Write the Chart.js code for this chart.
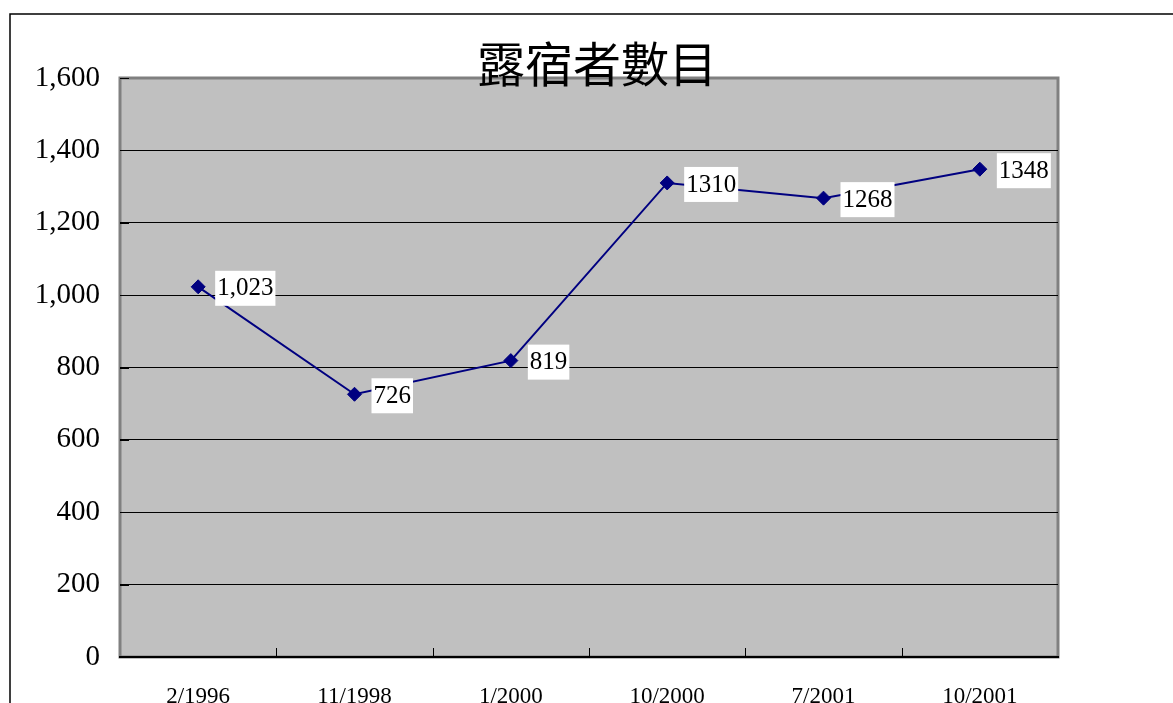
<!DOCTYPE html>
<html lang="zh-Hant">
<head>
<meta charset="UTF-8">
<title>露宿者數目</title>
<style>
    body { margin: 0; background: #fff; }
    #wrap { width: 1173px; height: 703px; position: relative; }
</style>
</head>
<body>
<div id="wrap"><canvas id="chart"></canvas></div>
<script src="https://cdn.jsdelivr.net/npm/chart.js"></script>
<script>
// data
const categories = ['2/1996', '11/1998', '1/2000', '10/2000', '7/2001', '10/2001'];
const counts = [1023, 726, 819, 1310, 1268, 1348];
const pointLabels = ['1,023', '726', '819', '1310', '1268', '1348'];
const yTicks = [0, 200, 400, 600, 800, 1000, 1200, 1400, 1600];
const chartTitle = '露宿者數目';

const serif = '"Liberation Serif", "DejaVu Serif", serif';

// outer frame, grey plot area, inside ticks, title
const framePlugin = {
    id: 'frame',
    beforeDraw(chart) {
        const ctx = chart.ctx, a = chart.chartArea;
        ctx.save();
        ctx.strokeStyle = '#000';
        ctx.lineWidth = 1.5;
        ctx.beginPath();
        ctx.moveTo(10, chart.height);
        ctx.lineTo(10, 14);
        ctx.lineTo(chart.width, 14);
        ctx.stroke();
        ctx.fillStyle = '#c0c0c0';
        ctx.fillRect(a.left, a.top, a.right - a.left, a.bottom - a.top);
        ctx.strokeStyle = '#808080';
        ctx.lineWidth = 3;
        ctx.strokeRect(a.left, a.top, a.right - a.left, a.bottom - a.top);
        ctx.restore();
    },
    afterDraw(chart) {
        const ctx = chart.ctx, a = chart.chartArea;
        const xs = chart.scales.x, ys = chart.scales.y;
        ctx.save();
        ctx.strokeStyle = '#000';
        ctx.lineWidth = 1;
        ctx.beginPath();
        yTicks.forEach(v => {
            const y = Math.round(ys.getPixelForValue(v)) + 0.5;
            ctx.moveTo(a.left, y);
            ctx.lineTo(a.left + 9, y);
        });
        for (let i = 0; i < categories.length - 1; i++) {
            const x = Math.round((xs.getPixelForValue(i) + xs.getPixelForValue(i + 1)) / 2) + 0.5;
            ctx.moveTo(x, a.bottom);
            ctx.lineTo(x, a.bottom - 9);
        }
        ctx.stroke();
        ctx.fillStyle = '#000';
        ctx.font = '48px "Noto Sans CJK TC", sans-serif';
        ctx.textAlign = 'center';
        ctx.textBaseline = 'middle';
        ctx.fillText(chartTitle, 597, 64);
        ctx.restore();
    }
};

// white boxed value labels to the right of each point
const labelPlugin = {
    id: 'valueLabels',
    afterDatasetsDraw(chart) {
        const ctx = chart.ctx;
        const meta = chart.getDatasetMeta(0);
        ctx.save();
        ctx.font = '25px ' + serif;
        ctx.textBaseline = 'middle';
        meta.data.forEach((pt, i) => {
            const txt = pointLabels[i];
            const w = ctx.measureText(txt).width;
            const x = pt.x + 17, y = pt.y + 1;
            ctx.fillStyle = '#fff';
            ctx.fillRect(x, y - 17, w + 4, 35);
            ctx.fillStyle = '#000';
            ctx.fillText(txt, x + 2, y + 1);
        });
        ctx.restore();
    }
};

new Chart(document.getElementById('chart'), {
    type: 'line',
    data: {
        labels: categories,
        datasets: [{
            data: counts,
            borderColor: '#000080',
            borderWidth: 2,
            tension: 0,
            pointStyle: 'rectRot',
            pointRadius: 7,
            pointBackgroundColor: '#000080',
            pointBorderColor: '#000080',
            pointBorderWidth: 1
        }]
    },
    options: {
        responsive: true,
        maintainAspectRatio: false,
        animation: false,
        layout: { padding: { top: 78, right: 115, left: 0, bottom: 0 } },
        plugins: {
            legend: { display: false },
            tooltip: { enabled: false }
        },
        scales: {
            x: {
                offset: true,
                grid: { display: false, drawTicks: false },
                border: { display: true, color: '#000', width: 2 },
                ticks: {
                    padding: 26,
                    color: '#000',
                    font: { family: serif, size: 23 },
                    maxRotation: 0
                },
                afterFit(scale) { scale.height = 46; }
            },
            y: {
                min: 0,
                max: 1600,
                afterBuildTicks(scale) { scale.ticks = yTicks.map(v => ({ value: v })); },
                grid: {
                    drawTicks: false,
                    color: ctx => (ctx.tick && (ctx.tick.value === 0 || ctx.tick.value === 1600)) ? 'rgba(0,0,0,0)' : '#000',
                    lineWidth: 1
                },
                border: { display: false },
                ticks: {
                    padding: 20,
                    color: '#000',
                    font: { family: serif, size: 29 },
                    callback: v => v.toLocaleString('en-US')
                },
                afterFit(scale) { scale.width = 120; }
            }
        }
    },
    plugins: [framePlugin, labelPlugin]
});
</script>
</body>
</html>
